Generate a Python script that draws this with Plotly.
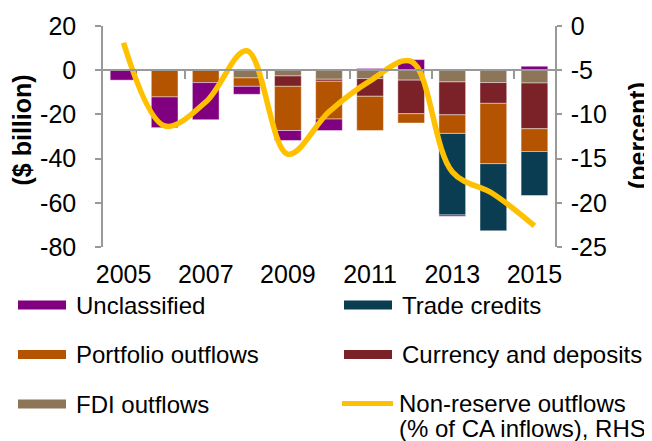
import plotly.graph_objects as go

years = [2005, 2006, 2007, 2008, 2009, 2010, 2011, 2012, 2013, 2014, 2015]
fdi = [0, 0, 0, -3.5, -2.6, -4.1, -3.8, -4.5, -5.3, -5.6, -5.8]
currency = [0, 0, 0, 0, -4.7, -0.9, -8.0, -15.2, -14.9, -9.4, -20.7]
portfolio = [0.4, -12.1, -5.6, -3.8, -20.0, -17.1, -15.5, -4.2, -8.4, -27.3, -10.3]
trade = [0, 0, 0, 0, 0, 0, 0, 0, -36.9, -30.4, -19.9]
unclassified = [-4.5, -13.9, -16.8, -3.6, -4.5, -5.2, 0.8, 4.8, -0.6, 0.5, 1.8]
nonreserve = [-1.9, -11.3, -8.6, -2.8, -14.5, -9.7, -6.2, -4.0, -16.5, -19.0, -22.6]

year_ticks = [2005, 2007, 2009, 2011, 2013, 2015]
boundary_ticks = [2006.5, 2008.5, 2010.5, 2012.5, 2014.5]
left_ticks = [20, 0, -20, -40, -60, -80]
left_labels = ["20", "0", "-20", "-40", "-60", "-80"]
right_ticks = [0, -5, -10, -15, -20, -25]
right_labels = ["0", "-5", "-10", "-15", "-20", "-25"]

C_UNC = "#800080"
C_TRADE = "#0B3D52"
C_PORT = "#B45400"
C_CURR = "#7B2128"
C_FDI = "#8C7657"
C_LINE = "#FFC000"
AX = "#999999"
FONT = "Liberation Sans, Arial, sans-serif"

fig = go.Figure()
edge = dict(width=0.8, color="rgba(255,255,255,0.55)")
for name, vals, col in [
    ("FDI outflows", fdi, C_FDI),
    ("Currency and deposits", currency, C_CURR),
    ("Portfolio outflows", portfolio, C_PORT),
    ("Trade credits", trade, C_TRADE),
    ("Unclassified", unclassified, C_UNC),
]:
    fig.add_trace(go.Bar(x=years, y=vals, name=name, marker=dict(color=col, line=edge),
                         showlegend=False))

fig.add_trace(go.Scatter(x=years, y=nonreserve, yaxis="y2", mode="lines",
                         line=dict(color=C_LINE, width=5.5, shape="spline", smoothing=1.0),
                         name="Non-reserve outflows (% of CA inflows), RHS", showlegend=False))
# helper trace so the zero-line category axis is drawn
fig.add_trace(go.Scatter(x=years, y=[None] * len(years), xaxis="x2", showlegend=False,
                         hoverinfo="skip"))

# page body has an 8px margin, so the figure is 8px smaller and starts at (8, 8)
fig.update_layout(
    width=644, height=433,
    margin=dict(l=95, r=97, t=18, b=194, autoexpand=False),
    paper_bgcolor="white", plot_bgcolor="white",
    barmode="relative", bargap=0.35,
    font=dict(family=FONT, size=25, color="#000000"),
    xaxis=dict(range=[2004.5, 2015.5], tickvals=year_ticks, ticks="", showline=False,
               showgrid=False, zeroline=False, ticklabelstandoff=10, automargin=False,
               tickfont=dict(size=25)),
    xaxis2=dict(range=[2004.5, 2015.5], overlaying="x", anchor="free", position=0.8,
                side="bottom", showline=True, linecolor=AX, linewidth=1.5,
                tickvals=boundary_ticks, ticks="outside", ticklen=8, tickwidth=1.5,
                tickcolor=AX, showticklabels=False, showgrid=False, zeroline=False,
                automargin=False),
    yaxis=dict(range=[-80, 20], tickvals=left_ticks, ticktext=left_labels, showline=True,
               linecolor=AX, linewidth=1.5, automargin=False,
               ticks="outside", ticklen=6, tickwidth=1.5, tickcolor=AX, showgrid=False,
               zeroline=False, ticklabelstandoff=14, tickfont=dict(size=25)),
    yaxis2=dict(range=[-25, 0], tickvals=right_ticks, ticktext=right_labels,
                overlaying="y", side="right", automargin=False,
                showline=True, linecolor=AX, linewidth=1.5, ticks="outside", ticklen=5,
                tickwidth=1.5, tickcolor=AX, showgrid=False, zeroline=False,
                ticklabelstandoff=4, tickfont=dict(size=25)),
)

# axis titles
fig.add_annotation(text="<b>($ billion)</b>", xref="paper", yref="paper",
                   x=(21.5 - 103) / 452, y=(247 - 130) / 221, xanchor="center",
                   yanchor="middle", textangle=-90, showarrow=False,
                   font=dict(size=25, family=FONT))
fig.add_annotation(text="<b>(percent)</b>", xref="paper", yref="paper",
                   x=(637.5 - 103) / 452, y=(247 - 135.5) / 221, xanchor="center",
                   yanchor="middle", textangle=-90, showarrow=False,
                   font=dict(size=25, family=FONT))

# manual legend (paper coordinates derived from screen pixel layout)
def px_x(v):
    return (v - 103) / 452

def px_y(v):
    return (247 - v) / 221

legend_items = [
    (["Unclassified"], C_UNC, "bar", 18, 305),
    (["Trade credits"], C_TRADE, "bar", 344, 305),
    (["Portfolio outflows"], C_PORT, "bar", 18, 354.5),
    (["Currency and deposits"], C_CURR, "bar", 344, 354.5),
    (["FDI outflows"], C_FDI, "bar", 18, 404),
    (["Non-reserve outflows", "(% of CA inflows), RHS"], C_LINE, "line", 340, 403.5),
]
for lines, col, kind, x0, yc in legend_items:
    if kind == "bar":
        fig.add_shape(type="rect", xref="paper", yref="paper",
                      x0=px_x(x0), x1=px_x(x0 + 48), y0=px_y(yc - 4.5), y1=px_y(yc + 4.5),
                      fillcolor=col, line=dict(width=0))
        tx = x0 + 56
    else:
        fig.add_shape(type="line", xref="paper", yref="paper",
                      x0=px_x(x0 + 2), x1=px_x(x0 + 53), y0=px_y(yc), y1=px_y(yc),
                      line=dict(color=col, width=5))
        tx = x0 + 58
    multi = len(lines) > 1
    for i, line_text in enumerate(lines):
        extra = dict(height=25, borderpad=0, valign="middle") if multi else {}
        fig.add_annotation(text=line_text, xref="paper", yref="paper", x=px_x(tx),
                           y=px_y(yc + 25 * i), xanchor="left", yanchor="middle",
                           align="left", showarrow=False, font=dict(size=24, family=FONT),
                           **extra)

fig.write_html("out.html")
